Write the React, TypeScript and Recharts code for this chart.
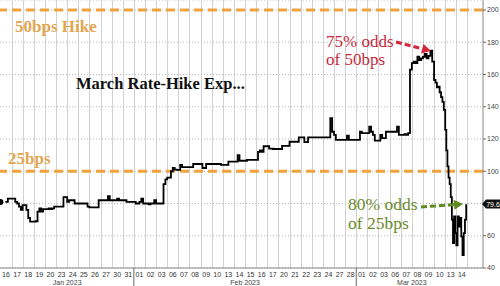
import { LineChart, Line, XAxis, YAxis, CartesianGrid, ReferenceLine } from 'recharts';

const janDays = ['16', '17', '18', '19', '20', '23', '24', '25', '26', '27', '30', '31'];
const febDays = ['01', '02', '03', '06', '07', '08', '09', '10', '13', '14', '15', '16', '17', '20', '21', '22', '23', '24', '27', '28'];
const marDays = ['01', '02', '03', '06', '07', '08', '09', '10', '13', '14'];
const monthNames = ['Jan 2023', 'Feb 2023', 'Mar 2023'];

// intraday readings of implied March hike (bps), one list per session
const janOdds = [
    [81, 81, 81, 81, 83, 83],
    [83, 83, 81, 80, 78, 76],
    [79, 79, 76, 71, 68.7, 68.7],
    [68.7, 69, 75, 77, 75, 76.5],
    [76.5, 76.5, 77, 76.5, 77, 78],
    [78, 78, 78, 78, 84, 84],
    [81, 82, 82, 82, 80, 80],
    [80, 80, 80, 80, 80, 78],
    [77.6, 77.6, 77.6, 77.6, 77.6, 82],
    [82, 82, 82, 82, 84.5, 82],
    [82, 82, 82, 83, 82, 82],
    [82, 82, 81, 81, 81, 81],
];
const febOdds = [
    [81, 80, 80, 81, 83, 80],
    [80, 80, 79.5, 80, 80, 82],
    [80, 80, 80, 80, 92, 95],
    [96, 96, 100, 102, 101, 100.8],
    [100.8, 104, 102.6, 102.6, 102.6, 102.6],
    [102.6, 102.6, 104.5, 104.5, 104.5, 104.5],
    [104.5, 102, 102, 104.5, 104.5, 104.5],
    [104.5, 104.5, 104.5, 104.5, 104.5, 104],
    [104, 104, 104, 106, 106, 106],
    [106, 106, 110, 106.5, 106.5, 106.5],
    [106.5, 107, 107, 107, 107, 107],
    [107, 112, 113, 112, 115.5, 115.5],
    [115.5, 114, 114, 113.8, 113.8, 113.8],
    [113.8, 113.8, 115.7, 115.7, 115.7, 115.7],
    [118.3, 118.3, 118.3, 118.3, 118.3, 121],
    [121, 121, 118, 118, 121, 121],
    [121, 121, 121, 121, 121, 121],
    [121, 121, 121, 121, 133, 124.5],
    [122.5, 119.4, 119.4, 119.4, 119.4, 119.4],
    [119.4, 122, 119.4, 119.4, 119.4, 119.4],
];
const marOdds = [
    [119.4, 119.4, 124.5, 123.7, 123.7, 123.7],
    [123.7, 127.6, 124.5, 122.5, 119, 119],
    [119, 122.5, 120.6, 120.6, 124.5, 124.5],
    [124.5, 124.5, 124.5, 124.5, 127.6, 122.5],
    [122.5, 122.5, 123, 122.5, 123.6, 163],
    [167, 168, 167, 171, 169, 170],
    [171, 172.7, 170, 171.5, 174.8, 168],
    [156.6, 155, 152, 152.4, 149, 146, 143, 138],
    [125.6, 113, 103, 96, 92, 84, 70, 55.5, 72, 61.6],
    [54, 72, 65.6, 71, 59.5, 48, 61.6, 70, 79.6],
];
const yTicks = [40, 60, 80, 100, 120, 140, 160, 180, 200];
const lastValue = 79.6;

const allDays = [...janDays, ...febDays, ...marDays];
const rows = [...janOdds, ...febOdds, ...marOdds].flatMap((day, i) =>
    day.map((v, k) => ({ t: i + k / day.length, v }))
);

// month spans in day units
const monthSpans = [janDays, febDays, marDays].reduce<{ start: number; end: number; name: string }[]>(
    (acc, days, m) => {
        const start = acc.length ? acc[acc.length - 1].end : 0;
        acc.push({ start, end: start + days.length, name: monthNames[m] });
        return acc;
    },
    []
);
const monthCenters = monthSpans.map((m) => (m.start + m.end) / 2);
const monthBreaks = monthSpans.slice(1).map((m) => m.start);
const xTicks = [...allDays.map((_, i) => i + 0.5), ...monthCenters, ...monthBreaks];
const dayBounds = allDays.map((_, i) => i + 1);
const xDomain: [number, number] = [-0.04, 43.4];

const W = 500;
const H = 286;
const plotW = 483;
const plotH = 268;

const tickFont = 'Liberation Sans, Arial, sans-serif';
const serif = 'Liberation Serif, Times New Roman, serif';
const orange = '#F0A33C';

function XTick(props: any) {
    const { x, y, payload } = props;
    const v = payload.value;
    const mi = monthCenters.indexOf(v);
    if (mi >= 0) {
        return (
            <text x={x} y={y + 17} textAnchor="middle" fontSize={7} fontFamily={tickFont} fill="#444">
                {monthSpans[mi].name}
            </text>
        );
    }
    if (monthBreaks.includes(v)) {
        return <line x1={x} x2={x} y1={y} y2={y + 18} stroke="#666" strokeWidth={1} />;
    }
    return (
        <text x={x} y={y + 9} textAnchor="middle" fontSize={7} fontFamily={tickFont} fill="#333">
            {allDays[Math.floor(v)]}
        </text>
    );
}

function Arrow({ x1, y1, x2, y2, color }: { x1: number; y1: number; x2: number; y2: number; color: string }) {
    const a = Math.atan2(y2 - y1, x2 - x1);
    const len = 9;
    const w = 5;
    const bx = x2 - len * Math.cos(a);
    const by = y2 - len * Math.sin(a);
    const px = -Math.sin(a) * w;
    const py = Math.cos(a) * w;
    return (
        <g>
            <line x1={x1} y1={y1} x2={bx} y2={by} stroke={color} strokeWidth={3} strokeDasharray="6 3" />
            <polygon points={`${x2},${y2} ${bx + px},${by + py} ${bx - px},${by - py}`} fill={color} />
        </g>
    );
}

// day-boundary gridlines, same linear mapping as the x axis
const dayX = (b: number) => Math.round(((b - xDomain[0]) / (xDomain[1] - xDomain[0])) * plotW) + 0.5;

export default function App() {
    return (
        <div style={{ position: 'absolute', left: 0, top: 0, width: W, height: H, background: '#fff' }}>
            <svg width={W} height={H} style={{ position: 'absolute', left: 0, top: 0 }}>
                {dayBounds.map((b) => (
                    <path
                        key={b}
                        d={`M${dayX(b)},0V${plotH}`}
                        stroke="#d2d2d2"
                        strokeWidth={1}
                        fill="none"
                    />
                ))}
            </svg>
            <div style={{ position: 'absolute', left: 0, top: 0 }}>
                <LineChart width={W} height={H} data={rows} margin={{ top: 0, right: 0, bottom: 0, left: 0 }}>
                    <CartesianGrid vertical={false} stroke="#b8b8b8" strokeDasharray="1 2" />
                    <XAxis
                        dataKey="t"
                        type="number"
                        domain={xDomain}
                        allowDataOverflow
                        ticks={xTicks}
                        interval={0}
                        tick={<XTick />}
                        tickLine={false}
                        tickSize={0}
                        tickMargin={0}
                        height={H - plotH}
                        axisLine={{ stroke: '#888' }}
                    />
                    <YAxis
                        orientation="right"
                        type="number"
                        domain={[40, 206.2]}
                        allowDataOverflow
                        ticks={yTicks}
                        interval={0}
                        width={W - plotW}
                        tickSize={3}
                        tickMargin={1}
                        tickLine={{ stroke: '#666' }}
                        axisLine={{ stroke: '#888' }}
                        tickFormatter={(v: number) => (v === 80 ? '' : String(v))}
                        tick={{ fontSize: 7, fontFamily: tickFont, fill: '#444', textAnchor: 'start' }}
                    />
                    <ReferenceLine y={200} stroke={orange} strokeWidth={3} strokeDasharray="9 5" />
                    <ReferenceLine y={100} stroke={orange} strokeWidth={3} strokeDasharray="9 5" />
                    <Line
                        dataKey="v"
                        type="stepAfter"
                        stroke="#000"
                        strokeWidth={1.8}
                        dot={false}
                        isAnimationActive={false}
                    />
                </LineChart>
            </div>
            <svg width={W} height={H} style={{ position: 'absolute', left: 0, top: 0, pointerEvents: 'none' }}>
                <text x={15} y={32} fontFamily={serif} fontSize={17} fontWeight="bold" fill="#E2A650">
                    50bps Hike
                </text>
                <text x={8} y={164} fontFamily={serif} fontSize={17} fontWeight="bold" fill="#E2A650">
                    25bps
                </text>
                <text x={76} y={89} fontFamily={serif} fontSize={16.5} fontWeight="bold" fill="#111">
                    March Rate-Hike Exp...
                </text>
                <text x={326} y={47} fontFamily={serif} fontSize={17} fill="#C62B3B">
                    75% odds
                </text>
                <text x={326} y={65} fontFamily={serif} fontSize={17} fill="#C62B3B">
                    of 50bps
                </text>
                <Arrow x1={396} y1={42} x2={431} y2={51} color="#D3283C" />
                <text x={348} y={210} fontFamily={serif} fontSize={17.5} fill="#6A8B2B">
                    80% odds
                </text>
                <text x={348} y={229} fontFamily={serif} fontSize={17.5} fill="#6A8B2B">
                    of 25bps
                </text>
                <Arrow x1={421} y1={207} x2={463} y2={204} color="#5F8A22" />
                <polygon points="482,204 486,199.5 500,199.5 500,208.5 486,208.5" fill="#111" />
                <text x={493} y={206.8} textAnchor="middle" fontFamily={tickFont} fontSize={7} fill="#fff">
                    {lastValue}
                </text>
            </svg>
        </div>
    );
}
